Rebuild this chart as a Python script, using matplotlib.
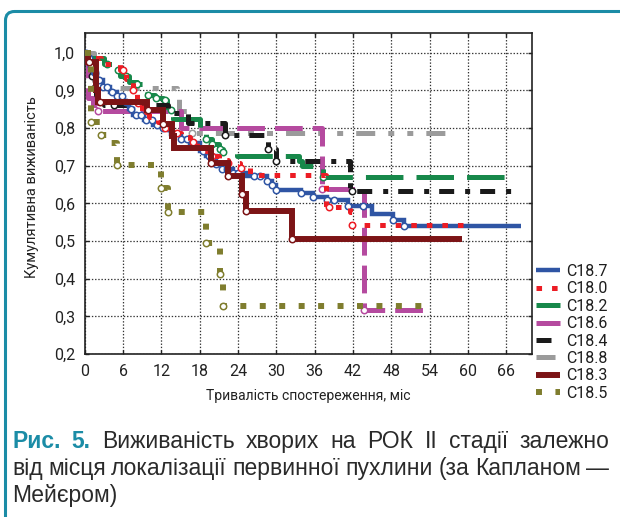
import numpy as np
import matplotlib
matplotlib.use("Agg")
import matplotlib.pyplot as plt
from matplotlib.lines import Line2D
from matplotlib.patches import FancyBboxPatch
from matplotlib.transforms import IdentityTransform

plt.rcParams['font.family'] = ['Roboto', 'DejaVu Sans']
plt.rcParams['lines.scale_dashes'] = False

W, H = 620, 517
TEAL = '#1b8ca6'

# Kaplan-Meier steps: change times, survival after, end, censored marks
c187_t = [0, 0.4, 0.8, 1.3, 1.9, 2.9, 4, 5, 6, 7, 7.6, 9.2, 10.7, 12.2, 13.5, 15, 16.5, 18, 19,
          20.6, 21.5, 23.2, 25.3, 28.5, 29.3, 30, 33.9, 35.8, 37.9, 41.2, 45, 48.3, 50]
c187_s = [1.0, 0.985, 0.965, 0.945, 0.928, 0.91, 0.895, 0.884, 0.868, 0.85, 0.835, 0.822, 0.809,
          0.8, 0.785, 0.772, 0.76, 0.74, 0.725, 0.705, 0.692, 0.68, 0.672, 0.66, 0.648, 0.636,
          0.628, 0.618, 0.608, 0.593, 0.572, 0.557, 0.54]
c187_end = 68.4
c187_cens = [0.2, 0.6, 1.0, 1.6, 2.2, 2.9, 3.5, 4.3, 5.0, 5.8, 6.5, 7.2, 8.0, 8.8, 9.6, 10.5,
             11.3, 12.2, 13.0, 14.0, 15.0, 16.0, 17.0, 18.5, 19.5, 20.6, 21.5, 22.3, 23.2, 24.0,
             26.5, 27.5, 28.5, 29.3, 30.0, 33.9, 35.8, 37.9, 39.0, 41.2, 43.5, 48.3, 50.0]

c180_t = [0, 1.5, 2.5, 5.5, 6.5, 7.5, 8.2, 9, 10, 11.5, 12.5, 13.5, 15, 16.5, 17.5, 18.5, 19.5,
          21, 22.5, 24.3, 25.8, 37.8, 41.5, 41.9]
c180_s = [1.0, 0.985, 0.97, 0.955, 0.93, 0.9, 0.867, 0.845, 0.83, 0.815, 0.8, 0.788, 0.775,
          0.763, 0.75, 0.738, 0.725, 0.715, 0.708, 0.694, 0.676, 0.59, 0.578, 0.542]
c180_end = 59.2
c180_cens = [6.0, 7.6, 8.3, 9.7, 12.5, 14.5, 17.0, 20.0, 22.5, 24.5, 38.3, 41.9]

c182_t = [0, 0.5, 3, 4.5, 5.2, 5.5, 7, 8.1, 9.7, 11, 12.3, 12.8, 13.8, 18, 18.5, 19, 20, 21,
          21.7, 23.8, 33.5, 34, 37.3]
c182_s = [1.0, 0.985, 0.97, 0.963, 0.955, 0.937, 0.923, 0.918, 0.888, 0.88, 0.875, 0.848, 0.825,
          0.8, 0.785, 0.77, 0.757, 0.745, 0.735, 0.725, 0.712, 0.7, 0.67]
c182_end = 67.5
c182_cens = [3.4, 5.2, 6.5, 8.1, 9.9, 11.2, 12.5, 13.5, 19.0, 20.0, 21.2, 21.7, 37.3]

c186_t = [0, 0.5, 1.3, 2.1, 15.0, 37.1, 43.7]
c186_s = [1.0, 0.88, 0.86, 0.844, 0.8, 0.638, 0.318]
c186_end = 54.4
c186_cens = [2.1, 37.2, 43.8]

c184_t = [0, 0.3, 0.7, 1.1, 1.4, 1.7, 3.0, 13, 16.2, 21.9, 28.7, 30, 41.6]
c184_s = [1.0, 0.98, 0.96, 0.937, 0.91, 0.888, 0.862, 0.84, 0.812, 0.782, 0.745, 0.712, 0.632]
c184_end = 67.5
c184_cens = [0.3, 1.1, 4.5, 21.9, 28.7, 30.0, 41.8]

c188_t = [0, 1.5, 14.4, 14.8, 16.8]
c188_s = [1.0, 0.906, 0.888, 0.844, 0.788]
c188_end = 56.4
c188_cens = [16.8]

c183_t = [0, 0.5, 1.7, 2.0, 9.8, 12.2, 13.6, 14.0, 19.8, 22.4, 24.7, 25.2, 32.4]
c183_s = [1.0, 0.975, 0.9, 0.87, 0.848, 0.81, 0.778, 0.747, 0.707, 0.672, 0.624, 0.58, 0.506]
c183_end = 59.1
c183_cens = [0.7, 2.4, 9.9, 12.2, 19.8, 22.4, 24.7, 25.2, 32.4]

c185_t = [0, 0.9, 2.6, 3.9, 5.0, 12.0, 13.1, 19.0, 21.1, 21.7]
c185_s = [1.0, 0.817, 0.782, 0.76, 0.703, 0.641, 0.577, 0.496, 0.412, 0.328]
c185_end = 54.0
c185_cens = [0.9, 2.6, 5.0, 12.0, 13.1, 19.0, 21.2, 21.7]

x_ticks = [0, 6, 12, 18, 24, 30, 36, 42, 48, 54, 60, 66]
y_ticks = [0.2, 0.3, 0.4, 0.5, 0.6, 0.7, 0.8, 0.9, 1.0]
y_labels = ['0,2', '0,3', '0,4', '0,5', '0,6', '0,7', '0,8', '0,9', '1,0']

series = {
    'C18.7': (c187_t, c187_s, c187_end, c187_cens),
    'C18.0': (c180_t, c180_s, c180_end, c180_cens),
    'C18.2': (c182_t, c182_s, c182_end, c182_cens),
    'C18.6': (c186_t, c186_s, c186_end, c186_cens),
    'C18.4': (c184_t, c184_s, c184_end, c184_cens),
    'C18.8': (c188_t, c188_s, c188_end, c188_cens),
    'C18.3': (c183_t, c183_s, c183_end, c183_cens),
    'C18.5': (c185_t, c185_s, c185_end, c185_cens),
}
# colour, width (pt), dashes (pt), zorder
styles = {
    'C18.7': ('#2f55a4', 3.2, None, 6),
    'C18.0': ('#ec1c24', 3.6, (4.0, 7.2), 7),
    'C18.2': ('#17884a', 3.6, (27, 9.4), 4),
    'C18.6': ('#b54a9f', 3.6, (20, 7.2), 3),
    'C18.4': ('#1a1a1a', 3.6, (10.8, 7.9, 3.6, 7.2), 5),
    'C18.8': ('#9b9b9b', 3.6, (13.7, 9.4, 4.3, 9.4, 4.3, 9.4), 2),
    'C18.3': ('#7c1416', 4.3, None, 8),
    'C18.5': ('#7f7d2e', 4.3, (4.3, 9.7), 9),
}


def step_val(t, s, x):
    i = np.searchsorted(t, x, side='right') - 1
    return np.asarray(s)[i]


fig = plt.figure(figsize=(W / 100, H / 100), dpi=100)
ax = fig.add_axes([84.8 / W, 1 - 354 / H, 446.9 / W, 321.3 / H])

handles = []
for name, (t, s, end, cens) in series.items():
    color, lw, dashes, z = styles[name]
    line, = ax.step(list(t) + [end], list(s) + [s[-1]], where='post', color=color, lw=lw,
                    zorder=z, solid_capstyle='butt', solid_joinstyle='miter')
    h = Line2D([], [], color=color, lw=lw, solid_capstyle='butt')
    if dashes:
        line.set_dashes(dashes)
        h.set_dashes(dashes)
    handles.append(h)
    if cens:
        ax.plot(cens, step_val(t, s, cens), 'o', ms=4.6, mfc='white', mec=color, mew=1.1,
                zorder=z + 0.5)

ax.set_xlim(0, 70)
ax.set_ylim(0.2, 1.053)
ax.set_xticks(x_ticks)
ax.set_yticks(y_ticks)
ax.set_yticklabels(y_labels)
ax.grid(True, color='#333333', lw=0.9, linestyle=(0, (1, 1.3)), zorder=0)
ax.set_axisbelow(True)
ax.tick_params(direction='in', length=3, top=True, right=True, labelsize=11.5,
               colors='#222222', pad=7, width=1)
for sp in ax.spines.values():
    sp.set_linewidth(1.2)
    sp.set_color('#222222')

ax.set_xlabel('Тривалість спостереження, міс', fontsize=10, color='#222222')
ax.xaxis.set_label_coords(0.5, -0.108)
ax.set_ylabel('Кумулятивна виживаність', fontsize=10.5, color='#222222')
ax.yaxis.set_label_coords(-0.103, 0.52)

fig.legend(handles, list(series.keys()), loc='upper left',
           bbox_to_anchor=(536 / W, 1 - 264 / H), frameon=False, fontsize=11.5,
           handlelength=1.5, handletextpad=0.4, borderpad=0, borderaxespad=0,
           labelspacing=0.15, labelcolor='#1e1e1e')

# frame round the figure (top and left edges)
fig.add_artist(FancyBboxPatch((5.5, -40), 800, H - 11.5 + 40,
                              boxstyle='round,pad=0,rounding_size=9',
                              transform=IdentityTransform(), fill=False,
                              ec=TEAL, lw=2.2))

# caption, justified like the original
r = fig.canvas.get_renderer()
cap_font = dict(family=['Liberation Sans', 'DejaVu Sans'], fontsize=16.5)
bold = dict(color=TEAL, fontweight='bold')
body = dict(color='#2a2a2a')
cap_lines = [
    ([('Рис.', bold), ('5.', bold), ('Виживаність', body), ('хворих', body), ('на', body),
      ('РОК', body), ('ІІ', body), ('стадії', body), ('залежно', body)], 448, True),
    ([('від', body), ('місця', body), ('локалізації', body), ('первинної', body),
      ('пухлини', body), ('(за', body), ('Капланом', body), ('—', body)], 475, True),
    ([('Мейєром)', body)], 502, False),
]
x0, x1 = 12, 609
for words, yb, just in cap_lines:
    texts = [fig.text(0, 1 - yb / H, w, va='baseline', ha='left', **cap_font, **p)
             for w, p in words]
    widths = [t.get_window_extent(r).width for t in texts]
    gap = (x1 - x0 - sum(widths)) / (len(texts) - 1) if just else 6.4
    x = x0
    for t, w in zip(texts, widths):
        t.set_x(x / W)
        x += w + gap

fig.savefig('out.png', dpi=100, facecolor='white')
